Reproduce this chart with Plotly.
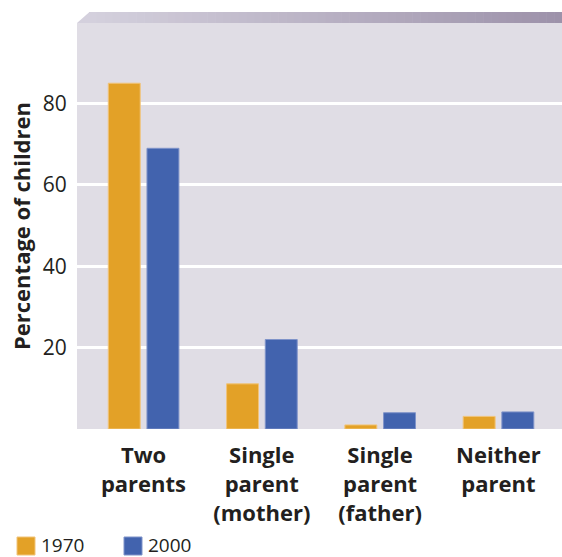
import plotly.graph_objects as go

# Living arrangements of children, share (%) by year
categories = ["Two<br>parents", "Single<br>parent<br>(mother)", "Single<br>parent<br>(father)", "Neither<br>parent"]
years = ["1970", "2000"]
values_1970 = [85, 11.1, 1.0, 3.1]
values_2000 = [69, 22, 4.0, 4.2]
y_ticks = [20, 40, 60, 80]

colors = {"1970": "#E3A127", "2000": "#4263AE"}
edges = {"1970": "#F1C47A", "2000": "#7F93C9"}

W, H = 562, 557
L, R, T, B = 77, 0, 23, 128
plot_w = W - L - R
plot_h = H - T - B
TEXT = "#231F20"
FONT = "Open Sans"


def px_x(px):
    return (px - L) / plot_w


def px_y(py):
    return (H - B - py) / plot_h


fig = go.Figure()
offsets = {"1970": -0.2975, "2000": 0.0296}
for yr, vals in zip(years, [values_1970, values_2000]):
    fig.add_trace(go.Bar(
        x=categories, y=vals, name=yr,
        width=0.27, offset=offsets[yr],
        marker=dict(color=colors[yr], line=dict(color=edges[yr], width=1)),
        showlegend=False, hoverinfo="x+y",
    ))

shapes = []
# shaded top band with a gradient, slanted at its left end
band_top, band_bot = 12, 23
x0, x1 = 89, W
n = 60
c0 = (0xD4, 0xD0, 0xDD)
c1 = (0x9D, 0x92, 0xAA)
for i in range(n):
    t = i / (n - 1)
    col = "rgb(%d,%d,%d)" % tuple(round(a + (b - a) * t) for a, b in zip(c0, c1))
    sx0 = x0 + (x1 - x0) * i / n
    sx1 = x0 + (x1 - x0) * (i + 1) / n + 0.6
    shapes.append(dict(type="rect", xref="paper", yref="paper",
                       x0=px_x(sx0), x1=px_x(sx1), y0=px_y(band_bot), y1=px_y(band_top),
                       fillcolor=col, line=dict(width=0), layer="above"))
shapes.append(dict(type="path", xref="paper", yref="paper",
                   path="M %f %f L %f %f L %f %f L %f %f Z" % (
                       px_x(L), px_y(band_bot), px_x(x0 + 0.5), px_y(band_top),
                       px_x(x0 + 0.5), px_y(band_bot), px_x(L), px_y(band_bot)),
                   fillcolor="rgb(%d,%d,%d)" % c0, line=dict(width=0), layer="above"))

# legend swatches and labels
annotations = []
legend_items = [("1970", 17), ("2000", 124)]
for yr, lx in legend_items:
    shapes.append(dict(type="rect", xref="paper", yref="paper",
                       x0=px_x(lx), x1=px_x(lx + 18), y0=px_y(555), y1=px_y(537),
                       fillcolor=colors[yr], line=dict(color=edges[yr], width=1)))
    annotations.append(dict(xref="paper", yref="paper", x=px_x(lx + 22), y=px_y(545),
                            text=yr, showarrow=False, xanchor="left", yanchor="middle",
                            font=dict(family=FONT, size=19, color=TEXT)))

fig.update_layout(
    width=W, height=H,
    margin=dict(l=L, r=R, t=T, b=B, pad=0),
    paper_bgcolor="white",
    plot_bgcolor="#E0DDE5",
    barmode="overlay",
    shapes=shapes,
    annotations=annotations,
    font=dict(family=FONT, color=TEXT),
    xaxis=dict(
        range=[-0.562, 3.538], showgrid=False, zeroline=False, showline=False,
        ticks="outside", ticklen=7, tickcolor="rgba(0,0,0,0)",
        tickfont=dict(family=FONT, size=22, color=TEXT, weight="bold"),
        fixedrange=True,
    ),
    yaxis=dict(
        range=[0, 99.8], tickvals=y_ticks, showgrid=True, gridcolor="white", gridwidth=3,
        zeroline=False, showline=False,
        ticks="outside", ticklen=5, tickcolor="rgba(0,0,0,0)",
        tickfont=dict(family=FONT, size=21, color=TEXT),
        title=dict(text="Percentage of children", standoff=6,
                   font=dict(family=FONT, size=22, color=TEXT, weight="bold")),
        fixedrange=True,
    ),
)

fig.write_html("out.html")
